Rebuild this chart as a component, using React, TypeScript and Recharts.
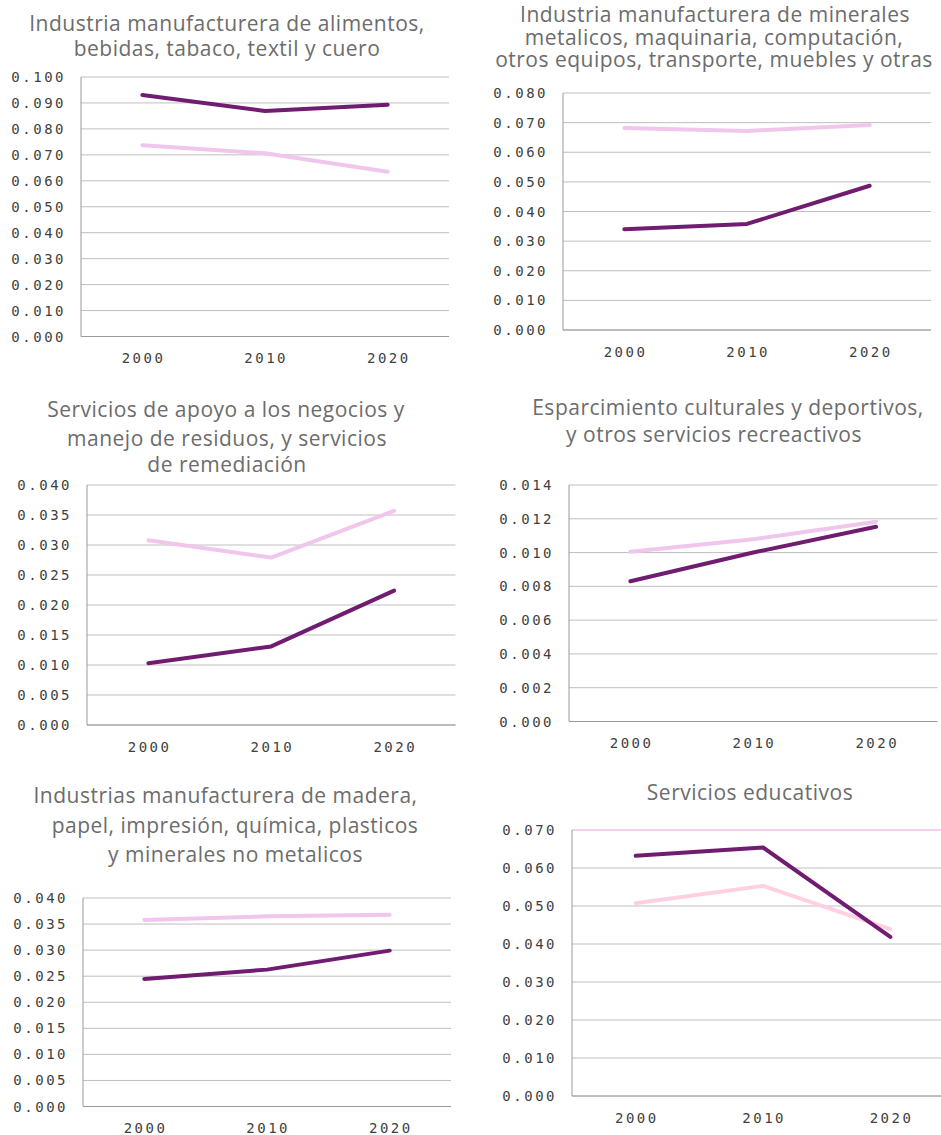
import React from "react";
import { LineChart, Line, XAxis, YAxis, CartesianGrid, ReferenceLine } from "recharts";

const years = ["2000", "2010", "2020"];

const p1Dark = [0.0931, 0.0869, 0.0893];
const p1Light = [0.0737, 0.0706, 0.0635];
const p2Dark = [0.034, 0.0358, 0.0487];
const p2Light = [0.0682, 0.0672, 0.0692];
const p3Dark = [0.0103, 0.0131, 0.0224];
const p3Light = [0.0308, 0.0279, 0.0357];
const p4Dark = [0.0083, 0.01, 0.01153];
const p4Light = [0.01005, 0.01079, 0.01183];
const p5Dark = [0.02447, 0.02626, 0.0299];
const p5Light = [0.0358, 0.03648, 0.0368];
const p6Dark = [0.0632, 0.0654, 0.0419];
const p6Light = [0.0507, 0.0553, 0.0439];

const p1Ticks = [0, 0.01, 0.02, 0.03, 0.04, 0.05, 0.06, 0.07, 0.08, 0.09, 0.1];
const p2Ticks = [0, 0.01, 0.02, 0.03, 0.04, 0.05, 0.06, 0.07, 0.08];
const p3Ticks = [0, 0.005, 0.01, 0.015, 0.02, 0.025, 0.03, 0.035, 0.04];
const p4Ticks = [0, 0.002, 0.004, 0.006, 0.008, 0.01, 0.012, 0.014];
const p5Ticks = [0, 0.005, 0.01, 0.015, 0.02, 0.025, 0.03, 0.035, 0.04];
const p6Ticks = [0, 0.01, 0.02, 0.03, 0.04, 0.05, 0.06, 0.07];

const p1Title = ["Industria manufacturera de alimentos,", "bebidas, tabaco, textil y cuero"];
const p2Title = [
  "Industria manufacturera de minerales",
  "metalicos, maquinaria, computación,",
  "otros equipos, transporte, muebles y otras",
];
const p3Title = [
  "Servicios de apoyo a los negocios y",
  "manejo de residuos, y servicios",
  "de remediación",
];
const p4Title = ["Esparcimiento culturales y deportivos,", "y otros servicios recreactivos"];
const p5Title = [
  "Industrias manufacturera de madera,",
  "papel, impresión, química, plasticos",
  "y minerales no metalicos",
];
const p6Title = ["Servicios educativos"];

const DARK = "#701C70";
const LIGHT = "#F0C6EC";
const LIGHT6 = "#FFD0E2";
const GRID = "#BFBFBF";
const TICK_FONT = "'DejaVu Sans Mono', 'Liberation Mono', monospace";
const TITLE_FONT = "'Open Sans', 'Noto Sans', sans-serif";

const build = (dark: number[], light: number[]) =>
  years.map((y, i) => ({ year: y, dark: dark[i], light: light[i] }));

const YTick = (props: any) => {
  const { x, y, payload } = props;
  return (
    <text
      x={x}
      y={y}
      dy="0.36em"
      textAnchor="end"
      fill="#3f3f3f"
      fontSize={14}
      fontFamily={TICK_FONT}
      letterSpacing={2.5}
    >
      {Number(payload.value).toFixed(3)}
    </text>
  );
};

const XTick = (props: any) => {
  const { x, y, payload } = props;
  return (
    <text
      x={x + 1.2}
      y={y}
      dy="0.71em"
      textAnchor="middle"
      fill="#3f3f3f"
      fontSize={14}
      fontFamily={TICK_FONT}
      letterSpacing={2.5}
    >
      {payload.value}
    </text>
  );
};

type PanelProps = {
  dark: number[];
  light: number[];
  ticks: number[];
  plotLeft: number;
  plotRight: number;
  plotTop: number;
  plotBottom: number;
  lightColor: string;
  topLine?: string;
};

const Panel = ({ dark, light, ticks, plotLeft, plotRight, plotTop, plotBottom, lightColor, topLine }: PanelProps) => {
  const yw = 75;
  const chartLeft = plotLeft - yw;
  const chartTop = plotTop - 10;
  const width = plotRight - chartLeft + 2;
  const height = plotBottom - chartTop + 40;
  const max = ticks[ticks.length - 1];
  return (
    <div style={{ position: "absolute", left: chartLeft, top: chartTop }}>
      <LineChart
        width={width}
        height={height}
        data={build(dark, light)}
        margin={{ top: 10, right: 2, left: 0, bottom: 0 }}
      >
        <CartesianGrid vertical={false} stroke={GRID} strokeWidth={1} />
        <XAxis
          dataKey="year"
          scale="band"
          height={40}
          tickLine={false}
          tickSize={0}
          tickMargin={17}
          axisLine={{ stroke: "#9a9a9a", strokeWidth: 1 }}
          tick={<XTick />}
          interval={0}
        />
        <YAxis
          width={yw}
          domain={[0, max]}
          ticks={ticks}
          interval={0}
          tickLine={false}
          tickSize={0}
          tickMargin={15}
          axisLine={{ stroke: "#9a9a9a", strokeWidth: 1 }}
          tick={<YTick />}
        />
        {topLine ? <ReferenceLine y={max} stroke={topLine} strokeWidth={1.5} /> : null}
        <Line
          type="linear"
          dataKey="light"
          stroke={lightColor}
          strokeWidth={4}
          dot={false}
          strokeLinecap="round"
          strokeLinejoin="round"
          isAnimationActive={false}
        />
        <Line
          type="linear"
          dataKey="dark"
          stroke={DARK}
          strokeWidth={4}
          dot={false}
          strokeLinecap="round"
          strokeLinejoin="round"
          isAnimationActive={false}
        />
      </LineChart>
    </div>
  );
};

const Title = ({ lines, xs, ys }: { lines: string[]; xs: number[]; ys: number[] }) => (
  <>
    {lines.map((t, i) => (
      <text
        key={i}
        x={xs[i]}
        y={ys[i]}
        textAnchor="middle"
        fill="#6c6c6c"
        fontSize={21}
        letterSpacing={0.5}
        fontFamily={TITLE_FONT}
      >
        {t}
      </text>
    ))}
  </>
);

export default function App() {
  return (
    <div
      style={{
        position: "absolute",
        left: 0,
        top: 0,
        width: 941,
        height: 1135,
        overflow: "hidden",
        background: "#ffffff",
      }}
    >
      <Panel dark={p1Dark} light={p1Light} ticks={p1Ticks} plotLeft={81} plotRight={449} plotTop={76.5} plotBottom={336} lightColor={LIGHT} />
      <Panel dark={p2Dark} light={p2Light} ticks={p2Ticks} plotLeft={563} plotRight={931} plotTop={93} plotBottom={330} lightColor={LIGHT} />
      <Panel dark={p3Dark} light={p3Light} ticks={p3Ticks} plotLeft={87} plotRight={455.5} plotTop={485} plotBottom={725} lightColor={LIGHT} />
      <Panel dark={p4Dark} light={p4Light} ticks={p4Ticks} plotLeft={569} plotRight={937.5} plotTop={485} plotBottom={721.5} lightColor={LIGHT} />
      <Panel dark={p5Dark} light={p5Light} ticks={p5Ticks} plotLeft={82.5} plotRight={450.5} plotTop={897.5} plotBottom={1106} lightColor={LIGHT} />
      <Panel dark={p6Dark} light={p6Light} ticks={p6Ticks} plotLeft={572} plotRight={954} plotTop={830} plotBottom={1096} lightColor={LIGHT6} topLine="#F6CCEE" />
      <svg width={941} height={1135} style={{ position: "absolute", left: 0, top: 0, pointerEvents: "none" }}>
        <Title lines={p1Title} xs={[227, 227]} ys={[31, 56]} />
        <Title lines={p2Title} xs={[715, 714, 714]} ys={[21.5, 44.5, 66.5]} />
        <Title lines={p3Title} xs={[226, 227, 227]} ys={[416.5, 446, 471.5]} />
        <Title lines={p4Title} xs={[728, 714]} ys={[415, 441.5]} />
        <Title lines={p5Title} xs={[225.5, 235, 235.5]} ys={[802.5, 832.5, 861.5]} />
        <Title lines={p6Title} xs={[750]} ys={[800]} />
      </svg>
    </div>
  );
}
